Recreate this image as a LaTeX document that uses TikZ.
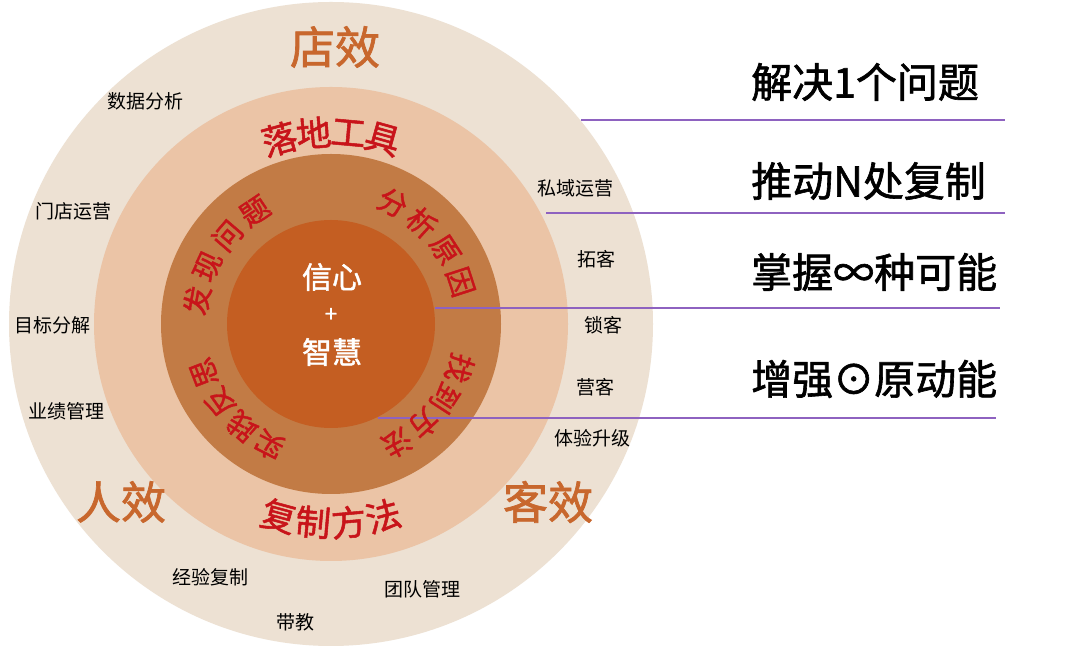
\documentclass[tikz,border=0pt]{standalone}
\usepackage{fontspec}
\setmainfont{Noto Sans CJK SC}
\newfontfamily\cjk{Noto Sans CJK SC}
\newfontfamily\cjkb{Noto Sans CJK SC}[FakeBold=1.5]
\definecolor{bgout}{HTML}{EDE1D3}
\definecolor{peach}{HTML}{EBC4A6}
\definecolor{ringb}{HTML}{C27B45}
\definecolor{core}{HTML}{C45E22}
\definecolor{redt}{HTML}{C8141A}
\definecolor{orangt}{HTML}{C8672D}
\definecolor{linep}{HTML}{8E62C0}
\begin{document}
\begin{tikzpicture}[x=1pt,y=1pt,
  small/.style={font=\cjk\fontsize{19}{19}\selectfont, text=black, inner sep=0pt},
  ringtxt/.style={font=\cjkb\fontsize{29}{29}\selectfont, text=redt, inner sep=0pt},
  midtxt/.style={font=\cjkb\fontsize{35}{35}\selectfont, text=redt, inner sep=0pt},
  outtxt/.style={font=\cjkb\fontsize{45}{45}\selectfont, text=orangt, inner sep=0pt},
  coretxt/.style={font=\cjkb\fontsize{30}{30}\selectfont, text=white, inner sep=0pt},
  righttxt/.style={font=\cjkb\fontsize{41}{41}\selectfont, text=black, inner sep=0pt, anchor=west},
  guide/.style={draw=linep, line width=1.2pt}]
\useasboundingbox (0,0) rectangle (1077,650);
\fill[white] (0,0) rectangle (1077,650);
\coordinate (C) at (331,326);
% rings
\fill[bgout] (C) circle (322);
\fill[peach] (C) circle (237);
\fill[ringb] (C) circle (170);
\fill[core] (C) circle (104);
% guide lines
\coordinate (l1a) at (581,530); \coordinate (l1b) at (1005,530);
\coordinate (l2a) at (546,437); \coordinate (l2b) at (1005,437);
\coordinate (l3a) at (435,342); \coordinate (l3b) at (1000,342);
\coordinate (l4a) at (378,232); \coordinate (l4b) at (996,232);
\draw[guide] (l1a) -- (l1b);
\draw[guide] (l2a) -- (l2b);
\draw[guide] (l3a) -- (l3b);
\draw[guide] (l4a) -- (l4b);
% inner ring labels (clockwise, tops outward)
\foreach \a/\c [count=\i] in {170/发,155/现,139.5/问,124/题,63/分,48/析,33/原,18/因,-19/找,-33/到,-47/方,-61/法,243/实,229/践,215/反,201/思}
  \node[ringtxt, rotate=\a-90] (in\i) at ([shift={(\a:136)}]C) {\c};
% middle ring labels
\foreach \a/\c [count=\i] in {105.6/落,95.2/地,84.8/工,74.4/具}
  \node[midtxt, rotate=\a-90] (mt\i) at ([shift={(\a:192)}]C) {\c};
\foreach \a/\c [count=\i] in {254.8/复,264.9/制,275.1/方,285.2/法}
  \node[midtxt, rotate=\a+90] (mb\i) at ([shift={(\a:199)}]C) {\c};
% outer labels
\node[outtxt] (dx) at (335,603) {店效};
\node[outtxt] (rx) at (121,148) {人效};
\node[outtxt] (kx) at (548,148) {客效};
% core
\node[coretxt] (xx) at (332,373) {信心};
\node[font=\cjkb\fontsize{22}{22}\selectfont, text=white, inner sep=0pt] (plus) at (331,335) {+};
\node[coretxt] (zh) at (332,298) {智慧};
% small labels
\node[small] (s1) at (145,549) {数据分析};
\node[small] (s2) at (73,439) {门店运营};
\node[small] (s3) at (52,325) {目标分解};
\node[small] (s4) at (66,239) {业绩管理};
\node[small] (s5) at (575,462) {私域运营};
\node[small] (s6) at (596,391) {拓客};
\node[small] (s7) at (603,325) {锁客};
\node[small] (s8) at (595,263) {营客};
\node[small] (s9) at (592,212) {体验升级};
\node[small] (s10) at (210,73) {经验复制};
\node[small] (s11) at (422,61) {团队管理};
\node[small] (s12) at (295,28) {带教};
% right texts
\node[righttxt] (r1) at (751,568) {解决1个问题};
\node[righttxt] (r2) at (751,469) {推动N处复制};
\node[righttxt] (r3) at (751,378) {掌握∞种可能};
\node[righttxt] (r4) at (751,271) {增强⊙原动能};
\end{tikzpicture}
\end{document}
